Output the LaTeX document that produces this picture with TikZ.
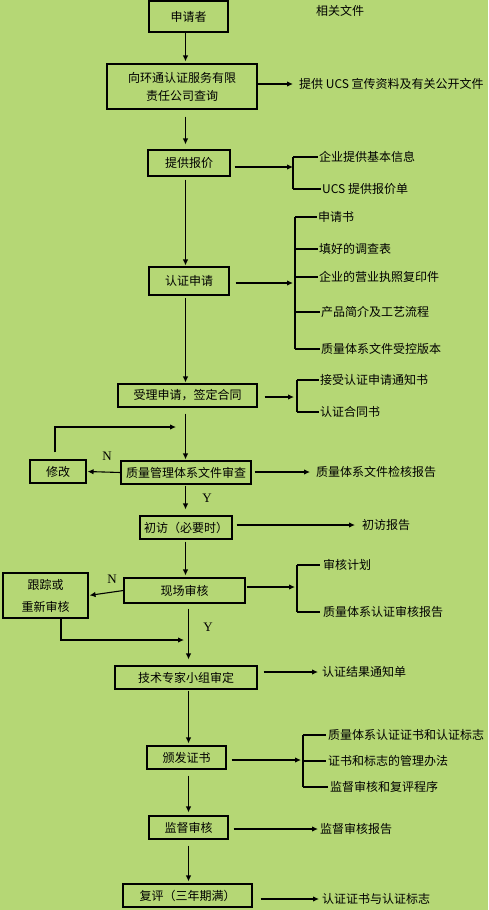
\documentclass[tikz,border=0pt]{standalone}
\usepackage{fontspec}
\setmainfont{Liberation Serif}
\newfontfamily\cjk{Noto Sans CJK SC}
\usepackage{tikz}
\usetikzlibrary{arrows.meta,positioning}
\definecolor{leaf}{RGB}{181,215,117}
\tikzset{
  every picture/.style={font=\cjk\fontsize{12}{14}\selectfont},
  proc/.style={draw,line width=1.1pt,inner sep=0pt,align=center},
  doc/.style={anchor=west,inner sep=1pt},
  flow/.style={line width=1.1pt,-{Latex[length=6pt,width=5.5pt]}},
  tie/.style={line width=1.1pt},
  yn/.style={font=\rmfamily\fontsize{13}{14}\selectfont,inner sep=0pt},
}

\begin{document}
\begin{tikzpicture}[x=1pt,y=-1pt]
  \path[use as bounding box,fill=leaf] (0,0) rectangle (488,910);
  \coordinate (spineA) at (185.5,0);
  \coordinate (spineB) at (188.5,0);
  % the main steps
  \node[proc,minimum width=79pt,minimum height=31pt] (applicant) at (188.5,16.5) {申请者};
  \node (related) at (340,11) {相关文件};
  \node[proc,minimum width=150pt,minimum height=45pt,font=\cjk\fontsize{12}{18}\selectfont] (inquire) at (182,86.5) {向环通认证服务有限\\责任公司查询};
  \node[proc,minimum width=82pt,minimum height=26pt] (quote) at (189,163) {提供报价};
  \node[proc,minimum width=80pt,minimum height=28pt] (request) at (189,281) {认证申请};
  \node[proc,minimum width=139pt,minimum height=23pt] (accept) at (187.5,395.5) {受理申请，签定合同};
  \node[proc,minimum width=130pt,minimum height=23pt] (review) at (186,472.5) {质量管理体系文件审查};
  \node[proc,minimum width=56pt,minimum height=23pt] (revise) at (58,471.5) {修改};
  \node[proc,minimum width=92pt,minimum height=23pt] (visit) at (186,527.5) {初访（必要时）};
  \node[proc,minimum width=121pt,minimum height=25pt] (audit) at (184.5,590.5) {现场审核};
  \node[proc,minimum width=85pt,minimum height=45pt,font=\cjk\fontsize{12}{22}\selectfont] (track) at (45.5,595.5) {跟踪或\\重新审核};
  \node[proc,minimum width=142pt,minimum height=23pt] (panel) at (186,677.5) {技术专家小组审定};
  \node[proc,minimum width=79pt,minimum height=23pt] (issue) at (186.5,757.5) {颁发证书};
  \node[proc,minimum width=79pt,minimum height=23pt] (watch) at (188.5,827.5) {监督审核};
  \node[proc,minimum width=129pt,minimum height=23pt] (renew) at (187.5,895.5) {复评（三年期满）};

  % down the spine
  \draw[flow,shorten >=2pt] (applicant.south -| spineA) -- (inquire.north -| spineA);
  \draw[flow,shorten <=7pt,shorten >=5pt] (inquire.south -| spineA) -- (quote.north -| spineA);
  \draw[flow,shorten <=3pt,shorten >=1pt] (quote.south -| spineA) -- (request.north -| spineA);
  \draw[flow,shorten <=2pt,shorten >=1pt] (request.south -| spineA) -- (accept.north -| spineA);
  \draw[flow,shorten <=6pt,shorten >=1pt] (accept.south -| spineA) -- (review.north -| spineA);
  \draw[flow,shorten <=1pt,shorten >=6pt] (review.south -| spineA) -- (visit.north -| spineA);
  \draw[flow,shorten <=2pt,shorten >=2pt] (visit.south -| spineA) -- (audit.north -| spineA);
  \draw[flow,shorten <=5pt,shorten >=6pt] (audit.south -| spineB) -- (panel.north -| spineB);
  \draw[flow,shorten <=1pt,shorten >=2pt] (panel.south -| spineB) -- (issue.north -| spineB);
  \draw[flow,shorten <=6pt,shorten >=3pt] (issue.south -| spineB) -- (watch.north -| spineB);
  \draw[flow,shorten <=6pt,shorten >=2pt] (watch.south -| spineB) -- (renew.north -| spineB);

  % the N loops
  \coordinate (back1) at (176,427);
  \coordinate (back2) at (184,640);
  \draw[flow,shorten >=1pt] (review.west) -- (revise.east);
  \draw[flow,shorten <=7pt] ([xshift=-3pt]revise.north) |- (back1);
  \draw[flow,shorten >=1pt] (audit.west) -- (track.east);
  \draw[flow] ([xshift=15.5pt]track.south) |- (back2);
  \node[yn] (no1) at (107,456) {N};
  \node[yn] (no2) at (112,579) {N};
  \node[yn] (yes1) at (207,498) {Y};
  \node[yn] (yes2) at (208,627) {Y};

  % documents on the right
  \node[doc] (d1) at (298,84) {提供 UCS 宣传资料及有关公开文件};
  \draw[flow,shorten >=5pt] (inquire.east |- d1.west) -- (d1.west);

  \coordinate (br2) at (293,167);
  \node[doc] (d2a) at (318,157) {企业提供基本信息};
  \node[doc] (d2b) at (321,189) {UCS 提供报价单};
  \draw[flow,shorten <=4pt] (quote.east |- br2) -- (br2);
  \draw[tie] (d2a.west -| br2) -- (d2b.west -| br2);
  \foreach \d in {d2a,d2b}
    \draw[tie] (\d.west -| br2) -- (\d.west);

  \coordinate (br3) at (295,283);
  \node[doc] (d3a) at (317,217) {申请书};
  \node[doc] (d3b) at (318,249) {填好的调查表};
  \node[doc] (d3c) at (318,277) {企业的营业执照复印件};
  \node[doc] (d3d) at (320,312) {产品简介及工艺流程};
  \node[doc] (d3e) at (320,349) {质量体系文件受控版本};
  \draw[flow,shorten <=6pt,shorten >=2pt] (request.east |- br3) -- (br3);
  \draw[tie] (d3a.west -| br3) -- (d3e.west -| br3);
  \foreach \d in {d3a,d3b,d3c,d3d,d3e}
    \draw[tie] (\d.west -| br3) -- (\d.west);

  \coordinate (br4) at (297,397);
  \node[doc] (d4a) at (319,380) {接受认证申请通知书};
  \node[doc] (d4b) at (319,412) {认证合同书};
  \draw[flow,shorten <=7pt,shorten >=3pt] (accept.east |- br4) -- (br4);
  \draw[tie] (d4a.west -| br4) -- (d4b.west -| br4);
  \foreach \d in {d4a,d4b}
    \draw[tie] (\d.west -| br4) -- (\d.west);

  \node[doc] (d5) at (315,472) {质量体系文件检核报告};
  \draw[flow,shorten <=3pt,shorten >=5pt] (review.east |- d5.west) -- (d5.west);

  \node[doc] (d6) at (361,525) {初访报告};
  \draw[flow,shorten <=4pt,shorten >=6pt] (visit.east |- d6.west) -- (d6.west);

  \coordinate (br7) at (297,587);
  \node[doc] (d7a) at (322,565) {审核计划};
  \node[doc] (d7b) at (322,612) {质量体系认证审核报告};
  \draw[flow,shorten <=1pt,shorten >=2pt] (audit.east |- br7) -- (br7);
  \draw[tie] (d7a.west -| br7) -- (d7b.west -| br7);
  \foreach \d in {d7a,d7b}
    \draw[tie] (\d.west -| br7) -- ([xshift=-2pt]\d.west);

  \node[doc] (d8) at (321,672) {认证结果通知单};
  \draw[flow,shorten <=6pt,shorten >=3pt] (panel.east |- d8.west) -- (d8.west);

  \coordinate (br9) at (303,760);
  \node[doc] (d9a) at (327,735) {质量体系认证证书和认证标志};
  \node[doc] (d9b) at (327,761) {证书和标志的管理办法};
  \node[doc] (d9c) at (329,787) {监督审核和复评程序};
  \draw[flow,shorten <=5pt,shorten >=2pt] (issue.east |- br9) -- (br9);
  \draw[tie] (d9a.west -| br9) -- (d9c.west -| br9);
  \foreach \d in {d9a,d9b,d9c}
    \draw[tie] (\d.west -| br9) -- ([xshift=-1pt]\d.west);

  \node[doc] (d10) at (319,829) {监督审核报告};
  \draw[flow,shorten <=5pt,shorten >=1pt] (watch.east |- d10.west) -- (d10.west);

  \node[doc] (d11) at (321,899) {认证证书与认证标志};
  \draw[flow,shorten <=8pt,shorten >=2pt] (renew.east |- d11.west) -- (d11.west);
\end{tikzpicture}
\end{document}
